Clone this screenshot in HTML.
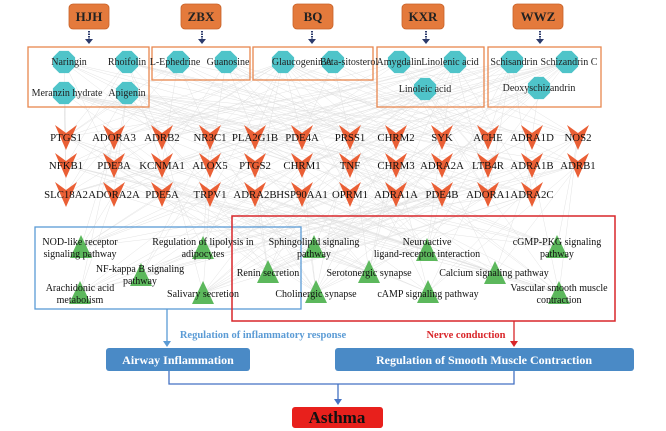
<!DOCTYPE html>
<html><head><meta charset="utf-8"><style>
html,body{margin:0;padding:0;background:#fff;}
svg{display:block;font-family:"Liberation Serif",serif;}
</style></head><body>
<svg id="s" width="666" height="431" viewBox="0 0 666 431" xmlns="http://www.w3.org/2000/svg">
<g id="edges" stroke="#cfcfcf" stroke-width="0.45" opacity="0.65"></g>
<g id="nodes"></g>
<g id="labels" font-size="10.8" fill="#111" text-anchor="middle"></g>

<g fill="#e47a3c" stroke="#c86228" stroke-width="0.8">
<rect x="69" y="4" width="40" height="25" rx="4"/>
<rect x="181" y="4" width="40" height="25" rx="4"/>
<rect x="293" y="4" width="40" height="25" rx="4"/>
<rect x="402" y="4" width="42" height="25" rx="4"/>
<rect x="513" y="4" width="50" height="25" rx="4"/>
</g>
<g font-size="13" font-weight="bold" fill="#222" text-anchor="middle">
<text x="89" y="21">HJH</text><text x="201" y="21">ZBX</text><text x="313" y="21">BQ</text><text x="423" y="21">KXR</text><text x="538" y="21">WWZ</text>
</g>
<g stroke="#2b3a6b" stroke-width="2" stroke-dasharray="1.5 1">
<line x1="89" y1="31" x2="89" y2="40"/><line x1="202" y1="31" x2="202" y2="40"/><line x1="312" y1="31" x2="312" y2="40"/><line x1="426" y1="31" x2="426" y2="40"/><line x1="540" y1="31" x2="540" y2="40"/>
</g>
<g fill="#2b3a6b">
<path d="M85,39 h8 l-4,5z"/><path d="M198,39 h8 l-4,5z"/><path d="M308,39 h8 l-4,5z"/><path d="M422,39 h8 l-4,5z"/><path d="M536,39 h8 l-4,5z"/>
</g>
<g fill="none" stroke="#e8874f" stroke-width="1.3">
<rect x="28" y="47" width="121" height="60"/>
<rect x="152" y="47" width="98" height="33"/>
<rect x="253" y="47" width="120" height="33"/>
<rect x="377" y="47" width="107" height="60"/>
<rect x="488" y="47" width="113" height="60"/>
</g>
<g id="hex" fill="#4fc4c9"></g>
<g font-size="10" fill="#222" text-anchor="middle">
<text x="69" y="65">Naringin</text><text x="127" y="65">Rhoifolin</text>
<text x="67" y="96">Meranzin hydrate</text><text x="127" y="96">Apigenin</text>
<text x="175" y="65">L-Ephedrine</text><text x="228" y="65">Guanosine</text>
<text x="302" y="65">Glaucogenin A</text><text x="349" y="65">Beta-sitosterol</text>
<text x="399" y="65">Amygdalin</text><text x="450" y="65">Linolenic acid</text>
<text x="425" y="92">Linoleic acid</text>
<text x="514" y="65">Schisandrin</text><text x="569" y="65">Schizandrin C</text>
<text x="539" y="91">Deoxyschizandrin</text>
</g>

<rect x="35" y="227" width="266" height="82" fill="none" stroke="#5b9bd5" stroke-width="1.3"/>
<rect x="232" y="216" width="383" height="105" fill="none" stroke="#d9262a" stroke-width="1.5"/>
<g id="tri" fill="#5cb85c"></g>
<g font-size="10" fill="#111" text-anchor="middle">
<text x="80" y="245">NOD-like receptor</text><text x="80" y="257">signaling pathway</text>
<text x="203" y="245">Regulation of lipolysis in</text><text x="203" y="257">adipocytes</text>
<text x="140" y="272">NF-kappa B signaling</text><text x="140" y="284">pathway</text>
<text x="80" y="291">Arachidonic acid</text><text x="80" y="303">metabolism</text>
<text x="203" y="297">Salivary secretion</text>
<text x="314" y="245">Sphingolipid signaling</text><text x="314" y="257">pathway</text>
<text x="427" y="245">Neuroactive</text><text x="427" y="257">ligand-receptor interaction</text>
<text x="557" y="245">cGMP-PKG signaling</text><text x="557" y="257">pathway</text>
<text x="268" y="276">Renin secretion</text>
<text x="369" y="276">Serotonergic synapse</text>
<text x="494" y="276">Calcium signaling pathway</text>
<text x="316" y="297">Cholinergic synapse</text>
<text x="428" y="297">cAMP signaling pathway</text>
<text x="559" y="291">Vascular smooth muscle</text><text x="559" y="303">contraction</text>
</g>

<line x1="167" y1="309" x2="167" y2="343" stroke="#5b9bd5" stroke-width="1.3"/>
<path d="M163,341 h8 l-4,6z" fill="#5b9bd5"/>
<text x="263" y="338" font-size="10.5" font-weight="bold" fill="#5b9bd5" text-anchor="middle">Regulation of inflammatory response</text>
<line x1="514" y1="321" x2="514" y2="343" stroke="#d9262a" stroke-width="1.3"/>
<path d="M510,341 h8 l-4,6z" fill="#d9262a"/>
<text x="466" y="338" font-size="10.5" font-weight="bold" fill="#d9262a" text-anchor="middle">Nerve conduction</text>
<rect x="106" y="348" width="144" height="23" rx="3" fill="#4a8ac6"/>
<rect x="335" y="348" width="299" height="23" rx="3" fill="#4a8ac6"/>
<g font-size="12" font-weight="bold" fill="#fff" text-anchor="middle">
<text x="178" y="364">Airway Inflammation</text>
<text x="484" y="364">Regulation of Smooth Muscle Contraction</text>
</g>
<path d="M169,371 V384 H514 V371" fill="none" stroke="#4472c4" stroke-width="1.3"/>
<line x1="338" y1="384" x2="338" y2="401" stroke="#4472c4" stroke-width="1.3"/>
<path d="M334,399 h8 l-4,6z" fill="#4472c4"/>
<rect x="292" y="407" width="91" height="21" rx="3" fill="#e8201c"/>
<text x="337" y="423" font-size="17" font-weight="bold" fill="#111" text-anchor="middle">Asthma</text>
</svg>
<script>
var NS="http://www.w3.org/2000/svg";
function el(p,t,a){var e=document.createElementNS(NS,t);for(var k in a)e.setAttribute(k,a[k]);document.getElementById(p).appendChild(e);return e;}
var hex=[[64,62],[127,62],[64,93],[127,93],[178,62],[226,62],[283,62],[333,62],[399,62],[455,62],[425,89],[512,62],[567,62],[539,88]];
hex.forEach(function(h){var pts=[];for(var i=0;i<8;i++){var a=Math.PI/8+i*Math.PI/4;pts.push((h[0]+12*Math.cos(a)).toFixed(1)+","+(h[1]+12*Math.sin(a)).toFixed(1));}el("hex","polygon",{points:pts.join(" ")});});
var xs=[66,114,162,210,255,302,350,396,442,488,532,578];
var rows=[["PTGS1","ADORA3","ADRB2","NR3C1","PLA2G1B","PDE4A","PRSS1","CHRM2","SYK","ACHE","ADRA1D","NOS2"],
["NFKB1","PDE3A","KCNMA1","ALOX5","PTGS2","CHRM1","TNF","CHRM3","ADRA2A","LTB4R","ADRA1B","ADRB1"],
["SLC18A2","ADORA2A","PDE5A","TRPV1","ADRA2B","HSP90AA1","OPRM1","ADRA1A","PDE4B","ADORA1","ADRA2C"]];
var ys=[137,165,194],targets=[];
rows.forEach(function(r,ri){r.forEach(function(n,i){targets.push([xs[i],ys[ri]]);});});
var tris=[[81,247],[203,248],[141,275],[80,293],[203,293],[314,247],[427,250],[557,247],[268,272],[369,272],[495,273],[316,292],[428,292],[559,293]];
var seed=7;function rnd(){seed=(seed*16807)%2147483647;return seed/2147483647;}
hex.forEach(function(h){targets.forEach(function(t){if(rnd()<0.3)el("edges","line",{x1:h[0],y1:h[1],x2:t[0],y2:t[1]});});});
tris.forEach(function(h){targets.forEach(function(t){if(rnd()<0.25)el("edges","line",{x1:h[0],y1:h[1],x2:t[0],y2:t[1]});});});
targets.forEach(function(t){var x=t[0],y=t[1];el("nodes","path",{d:"M"+(x-11)+","+(y-12)+" L"+x+","+(y-4)+" L"+(x+11)+","+(y-12)+" L"+x+","+(y+13)+"Z",fill:"#ea5f35"});});
rows.forEach(function(r,ri){r.forEach(function(n,i){var t=el("labels","text",{x:xs[i],y:ys[ri]+4});t.textContent=n;});});
tris.forEach(function(p){el("tri","polygon",{points:(p[0]-11)+","+(p[1]+11)+" "+(p[0]+11)+","+(p[1]+11)+" "+p[0]+","+(p[1]-12)});});
</script>
</body></html>
